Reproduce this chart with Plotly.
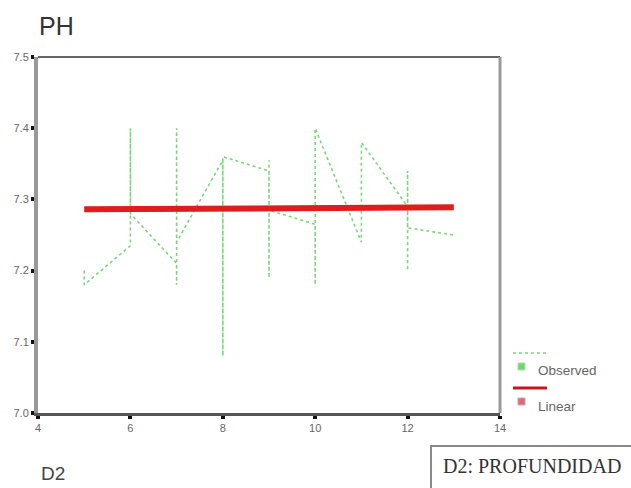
import plotly.graph_objects as go

W, H = 631, 488

# Observed series (sorted by D2, several readings per depth)
obs_x = [5, 5,
         6, 6, 6,
         7, 7, 7, 7,
         8, 8, 8,
         9, 9, 9, 9,
         10, 10, 10,
         11, 11,
         12, 12, 12, 12,
         13]
obs_y = [7.20, 7.18,
         7.235, 7.40, 7.28,
         7.21, 7.18, 7.40, 7.24,
         7.355, 7.08, 7.36,
         7.34, 7.19, 7.355, 7.285,
         7.265, 7.18, 7.40,
         7.24, 7.38,
         7.29, 7.20, 7.34, 7.26,
         7.25]

# Linear fit
lin_x = [5, 13]
lin_y = [7.286, 7.289]

x_ticks = [4, 6, 8, 10, 12, 14]
y_ticks = [7.0, 7.1, 7.2, 7.3, 7.4, 7.5]


def px(x):
    return x / W


def py(y):
    return 1 - y / H


fig = go.Figure()
fig.add_trace(go.Scatter(x=obs_x, y=obs_y, mode="lines", name="Observed",
                         line=dict(color="#78d878", width=1.6, dash="3px,3px"),
                         showlegend=False))
fig.add_trace(go.Scatter(x=lin_x, y=lin_y, mode="lines", name="Linear",
                         line=dict(color="#e01c1c", width=6),
                         showlegend=False))

tickfont = dict(family="Liberation Sans, Arial", size=11, color="#666")
fig.update_layout(
    width=W, height=H,
    margin=dict(l=0, r=0, t=0, b=0, pad=0),
    paper_bgcolor="white", plot_bgcolor="white",
    xaxis=dict(domain=[px(38), px(500)], range=[4, 14], tickvals=x_ticks,
               ticktext=[str(v) for v in x_ticks], automargin=False,
               showgrid=False, zeroline=False,
               showline=True, linecolor="#555", linewidth=3,
               ticks="outside", ticklen=3, tickwidth=4, tickcolor="#111",
               tickfont=tickfont),
    yaxis=dict(domain=[py(413), py(57)], range=[7.0, 7.5], tickvals=y_ticks,
               ticktext=["%.1f" % v for v in y_ticks], automargin=False,
               showgrid=False, zeroline=False,
               showline=True, linecolor="#999", linewidth=4,
               ticks="outside", ticklen=3, tickwidth=4, tickcolor="#111",
               tickfont=tickfont),
    showlegend=False,
)

shapes = []
# top and right frame of plot
shapes.append(dict(type="line", xref="x domain", yref="y domain", x0=0, x1=1, y0=1, y1=1,
                   line=dict(color="#666", width=2)))
shapes.append(dict(type="line", xref="x domain", yref="y domain", x0=1, x1=1, y0=0, y1=1,
                   line=dict(color="#999", width=3)))
# legend marks
shapes.append(dict(type="line", xref="paper", yref="paper", x0=px(513), x1=px(547),
                   y0=py(353), y1=py(353), line=dict(color="#78d878", width=1.6, dash="3px,3px")))
shapes.append(dict(type="rect", xref="paper", yref="paper", x0=px(518), x1=px(525),
                   y0=py(370), y1=py(363), line=dict(color="#a8e0a8", width=1),
                   fillcolor="#70d870"))
shapes.append(dict(type="line", xref="paper", yref="paper", x0=px(513), x1=px(547),
                   y0=py(388), y1=py(388), line=dict(color="#c8161e", width=3)))
shapes.append(dict(type="rect", xref="paper", yref="paper", x0=px(518), x1=px(525),
                   y0=py(405), y1=py(398), line=dict(color="#e0a0a8", width=1),
                   fillcolor="#d86a7a"))
# bottom-right box
shapes.append(dict(type="rect", xref="paper", yref="paper", x0=px(431), x1=px(640),
                   y0=py(500), y1=py(446), line=dict(color="#888", width=2),
                   fillcolor="rgba(0,0,0,0)"))
fig.update_layout(shapes=shapes)

annotations = [
    dict(text="PH", x=px(37), y=py(26), xanchor="left", yanchor="middle",
         font=dict(family="Liberation Sans, Arial", size=25, color="#333")),
    dict(text="D2", x=px(39), y=py(473), xanchor="left", yanchor="middle",
         font=dict(family="Liberation Sans, Arial", size=19, color="#444")),
    dict(text="Observed", x=px(536), y=py(370), xanchor="left", yanchor="middle",
         font=dict(family="Liberation Sans, Arial", size=13.5, color="#666")),
    dict(text="Linear", x=px(536), y=py(406), xanchor="left", yanchor="middle",
         font=dict(family="Liberation Sans, Arial", size=13.5, color="#666")),
    dict(text="D2: PROFUNDIDAD", x=px(441), y=py(466), xanchor="left", yanchor="middle",
         font=dict(family="Liberation Serif, Times New Roman", size=20, color="#333")),
]
for a in annotations:
    a.update(xref="paper", yref="paper", showarrow=False)
fig.update_layout(annotations=annotations)

fig.write_html("out.html", config={"displayModeBar": False},
               post_script="document.body.style.margin='0';document.body.style.overflow='hidden';")
